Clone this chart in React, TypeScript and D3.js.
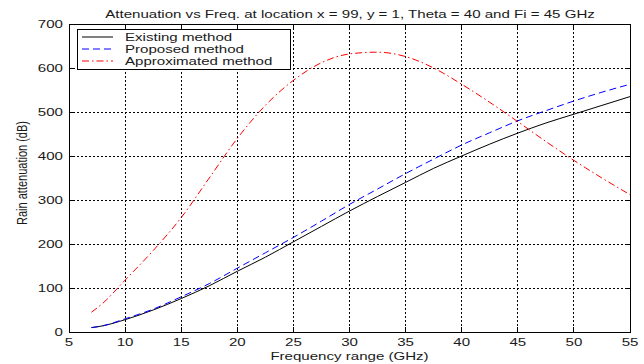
import React from "react";
import * as d3 from "d3";

const freqs = [7, 8, 10, 12.5, 15, 17.5, 20, 22.5, 25, 27.5, 30, 32.5, 35, 37.5, 40, 42.5, 45, 47.5, 50, 52.5, 55];
const existing = [10, 14, 28, 50, 76, 105, 138, 170, 205, 240, 275, 308, 340, 372, 400, 427, 452, 475, 495, 515, 535];
const proposed = [10, 14, 30, 52, 80, 110, 145, 180, 215, 252, 290, 325, 360, 393, 425, 453, 480, 503, 525, 545, 563];
const approximated = [45, 65, 118, 185, 260, 350, 440, 515, 572, 612, 632, 636, 626, 600, 563, 522, 478, 433, 390, 350, 312];

const xTicks = [5, 10, 15, 20, 25, 30, 35, 40, 45, 50, 55];
const yTicks = [0, 100, 200, 300, 400, 500, 600, 700];

const seriesNames = ["Existing method", "Proposed method", "Approximated method"];
const seriesColors = ["#000000", "#0000ff", "#ff0000"];
const seriesDash = ["none", "7,4", "7,3,1.5,3"];

const title = "Attenuation vs Freq. at location x = 99, y = 1, Theta = 40 and Fi = 45 GHz";
const xLabel = "Frequency range (GHz)";
const yLabel = "Rain attenuation (dB)";

const SX = 1.37;

function T({ x, y, anchor, children, rotate }: { x: number; y: number; anchor?: string; children: React.ReactNode; rotate?: boolean }) {
  return (
    <text transform={`translate(${x},${y}) scale(${SX},1)${rotate ? " rotate(-90)" : ""}`} fontSize={11}
      textAnchor={anchor || "start"} fill="#1a1a1a">{children}</text>
  );
}

export default function App() {
  const W = 644, H = 364;
  const L = 69, R = 630, Tp = 24, B = 332;
  const x = d3.scaleLinear().domain([5, 55]).range([L, R]);
  const y = d3.scaleLinear().domain([0, 700]).range([B, Tp]);
  const line = d3.line<[number, number]>().x(d => x(d[0])).y(d => y(d[1])).curve(d3.curveMonotoneX);
  const allSeries = [existing, proposed, approximated];
  const font = "'Liberation Sans', Arial, sans-serif";

  return (
    <svg width={W} height={H} style={{ position: "absolute", left: 0, top: 0, background: "#fff" }} fontFamily={font}>
      <rect x={0} y={0} width={W} height={H} fill="#fff" />
      {xTicks.slice(1, -1).map(t => (
        <line key={"gx" + t} x1={x(t)} x2={x(t)} y1={Tp} y2={B} stroke="#000" strokeWidth={1} strokeDasharray="2,2" shapeRendering="crispEdges" />
      ))}
      {yTicks.slice(1, -1).map(t => (
        <line key={"gy" + t} x1={L} x2={R} y1={y(t)} y2={y(t)} stroke="#000" strokeWidth={1} strokeDasharray="2,2" shapeRendering="crispEdges" />
      ))}
      {xTicks.map(t => (
        <g key={"tx" + t}>
          <line x1={x(t)} x2={x(t)} y1={B} y2={B - 5} stroke="#000" shapeRendering="crispEdges" />
          <line x1={x(t)} x2={x(t)} y1={Tp} y2={Tp + 5} stroke="#000" shapeRendering="crispEdges" />
          <T x={x(t)} y={B + 14} anchor="middle">{t}</T>
        </g>
      ))}
      {yTicks.map(t => (
        <g key={"ty" + t}>
          <line x1={L} x2={L + 5} y1={y(t)} y2={y(t)} stroke="#000" shapeRendering="crispEdges" />
          <line x1={R} x2={R - 5} y1={y(t)} y2={y(t)} stroke="#000" shapeRendering="crispEdges" />
          <T x={L - 6} y={y(t) + 4} anchor="end">{t}</T>
        </g>
      ))}
      {allSeries.map((s, i) => (
        <path key={"s" + i} d={line(freqs.map((f, j) => [f, s[j]] as [number, number])) || ""} fill="none"
          stroke={seriesColors[i]} strokeWidth={1} strokeDasharray={seriesDash[i]} />
      ))}
      <rect x={L} y={Tp} width={R - L} height={B - Tp} fill="none" stroke="#000" strokeWidth={1} shapeRendering="crispEdges" />
      <rect x={77} y={29} width={213} height={40} fill="#fff" stroke="#000" strokeWidth={1} shapeRendering="crispEdges" />
      {seriesNames.map((n, i) => (
        <g key={"lg" + i}>
          <line x1={82} x2={113} y1={37 + i * 12} y2={37 + i * 12} stroke={seriesColors[i]} strokeWidth={1} strokeDasharray={seriesDash[i]} />
          <T x={125} y={40.5 + i * 12}>{n}</T>
        </g>
      ))}
      <T x={350} y={18} anchor="middle">{title}</T>
      <T x={(L + R) / 2} y={359.5} anchor="middle">{xLabel}</T>
      <T x={26.5} y={173} anchor="middle" rotate>{yLabel}</T>
    </svg>
  );
}
